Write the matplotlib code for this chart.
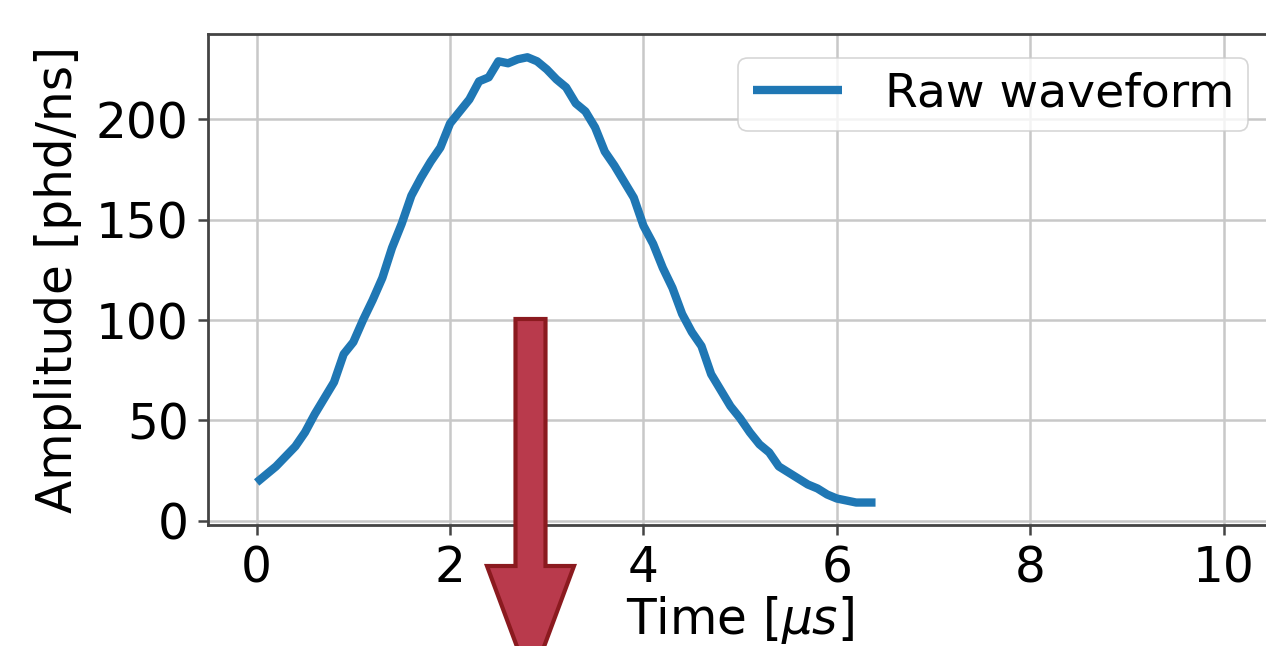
import matplotlib
matplotlib.use("Agg")
import matplotlib.pyplot as plt
from matplotlib.patches import FancyArrow

# Data (time in microseconds, amplitude in phd/ns)
time_us = [0.0, 0.1, 0.2, 0.3, 0.4, 0.5, 0.6, 0.7, 0.8, 0.9,
           1.0, 1.1, 1.2, 1.3, 1.4, 1.5, 1.6, 1.7, 1.8, 1.9,
           2.0, 2.1, 2.2, 2.3, 2.4, 2.5, 2.6, 2.7, 2.8, 2.9,
           3.0, 3.1, 3.2, 3.3, 3.4, 3.5, 3.6, 3.7, 3.8, 3.9,
           4.0, 4.1, 4.2, 4.3, 4.4, 4.5, 4.6, 4.7, 4.8, 4.9,
           5.0, 5.1, 5.2, 5.3, 5.4, 5.5, 5.6, 5.7, 5.8, 5.9,
           6.0, 6.1, 6.2, 6.3, 6.4]
amplitude = [19, 23, 27, 32, 37, 44, 53, 61, 69, 83,
             89, 100, 110, 121, 136, 148, 162, 171, 179, 186,
             198, 204, 210, 219, 221, 229, 228, 230, 231, 229,
             225, 220, 216, 208, 204, 196, 184, 177, 169, 161,
             147, 138, 126, 116, 103, 94, 87, 73, 65, 57,
             51, 44, 38, 34, 27, 24, 21, 18, 16, 13,
             11, 10, 9, 9, 9]
series_label = "Raw waveform"
x_ticks = [0, 2, 4, 6, 8, 10]
y_ticks = [0, 50, 100, 150, 200]

FS = 35
plt.rcParams['font.family'] = ['DejaVu Sans']
plt.rcParams['mathtext.fontset'] = 'dejavusans'

W, H = 1266, 646
fig = plt.figure(figsize=(W / 100, H / 100), dpi=100)
left, right, bottom, top = 208.3, 1272, 525, 34
ax = fig.add_axes([left / W, (H - bottom) / H, (right - left) / W, (bottom - top) / H])

ax.plot(time_us, amplitude, color='#1f77b4', lw=6, label=series_label, zorder=3,
        solid_joinstyle='round', solid_capstyle='butt')
ax.set_xlim(-0.5, 10.5)
ax.set_ylim(-2.2, 242.6)
ax.set_xticks(x_ticks)
ax.set_yticks(y_ticks)
ax.grid(True, color='#c8c8c8', lw=1.8)
ax.set_axisbelow(True)
for s in ax.spines.values():
    s.set_linewidth(2.0)
    s.set_color('#444444')
ax.tick_params(labelsize=FS, width=1.8, length=7, color='#444444', pad=7)
ax.set_xlabel(r"Time [$\mu s$]", fontsize=FS, labelpad=1)
ax.set_ylabel("Amplitude [phd/ns]", fontsize=FS, labelpad=10)

leg = ax.legend(loc='upper right', fontsize=34, borderaxespad=0.5,
                borderpad=0.3, handlelength=1.9, handletextpad=0.9,
                framealpha=0.8)
leg.get_frame().set_linewidth(1.2)

# Big red arrow overlay (in figure inches)
cx = 530.5 / 100
y_top = (H - 319) / 100
y_tip = (H - 683) / 100
arrow = FancyArrow(cx, y_top, 0, y_tip - y_top, width=0.30, head_width=0.87,
                   head_length=1.17, length_includes_head=True,
                   facecolor='#b93a4c', edgecolor='#8b1a1f', lw=3,
                   transform=fig.dpi_scale_trans, clip_on=False, zorder=10)
fig.add_artist(arrow)

fig.savefig("out.png", dpi=100)
